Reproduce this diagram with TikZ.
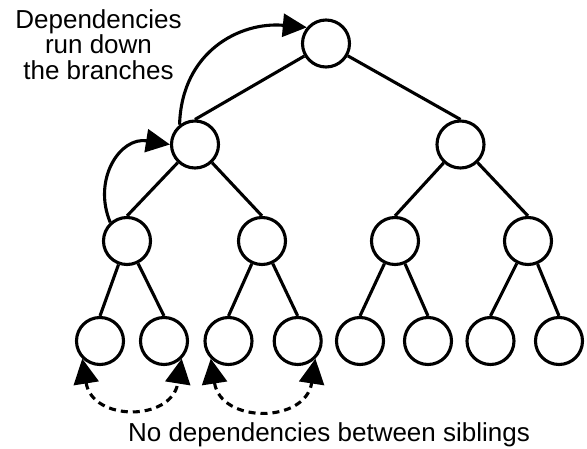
\documentclass[tikz,border=0pt]{standalone}
\usepackage{fontspec}
\setmainfont{Liberation Sans}
\usetikzlibrary{arrows.meta}
\begin{document}
\begin{tikzpicture}[x=1pt,y=-1pt,
  nd/.style={circle, draw, line width=3.1pt, minimum size=47pt, inner sep=0pt, fill=white},
  edge/.style={line width=3.1pt},
  tipend/.style={-{Triangle[length=24pt,width=23pt]}},
  dashedge/.style={line width=3.1pt, dash pattern=on 7pt off 5pt,
     {Triangle[length=25pt,width=25pt]}-{Triangle[length=25pt,width=25pt]}},
  lbl/.style={font=\fontsize{26}{25.5}\selectfont, inner sep=0pt, align=center}
]
\useasboundingbox (0,0) rectangle (587,449);
% nodes
\node[nd] (root) at (326,43.5) {};
\node[nd] (a) at (195,144.5) {};
\node[nd] (b) at (460.5,144.5) {};
\node[nd] (aa) at (127,241) {};
\node[nd] (ab) at (262,241) {};
\node[nd] (ba) at (395,241) {};
\node[nd] (bb) at (528,241) {};
\node[nd] (l1) at (100,341) {};
\node[nd] (l2) at (164,341) {};
\node[nd] (l3) at (228.5,341) {};
\node[nd] (l4) at (297.7,341) {};
\node[nd] (l5) at (360,341) {};
\node[nd] (l6) at (428,341) {};
\node[nd] (l7) at (490.5,341) {};
\node[nd] (l8) at (559,341) {};
% tree edges
\draw[edge] (root) -- (a.north);
\draw[edge] (root) -- (b.north);
\draw[edge] (a) -- (aa.north);
\draw[edge] (a) -- (ab.north);
\draw[edge] (b) -- (ba.north);
\draw[edge] (b) -- (bb.north);
\draw[edge] (aa) -- (l1.north);
\draw[edge] (aa) -- (l2.north);
\draw[edge] (ab) -- (l3.north);
\draw[edge] (ab) -- (l4.north);
\draw[edge] (ba) -- (l5.north);
\draw[edge] (ba) -- (l6.north);
\draw[edge] (bb) -- (l7.north);
\draw[edge] (bb) -- (l8.north);
% dependency arrows
\draw[edge, tipend] (aa.132) .. controls +(-18,-43) and +(-50,-8) .. (a.west);
\draw[edge, tipend] (a.128) .. controls +(2,-73) and +(-67,-6) .. (root.140);
% sibling arrows
\draw[dashedge] (l1.-135) .. controls +(10,63) and +(-10,63) .. (l2.-45);
\draw[dashedge] (l3.-135) .. controls +(10,65) and +(-10,65) .. (l4.-45);
% labels
\node[lbl, anchor=north] (t1) at (98.5,9) {Dependencies\\run down\\the branches};
\node[lbl, anchor=base] (t2) at (329,441.7) {No dependencies between siblings};
\end{tikzpicture}
\end{document}
